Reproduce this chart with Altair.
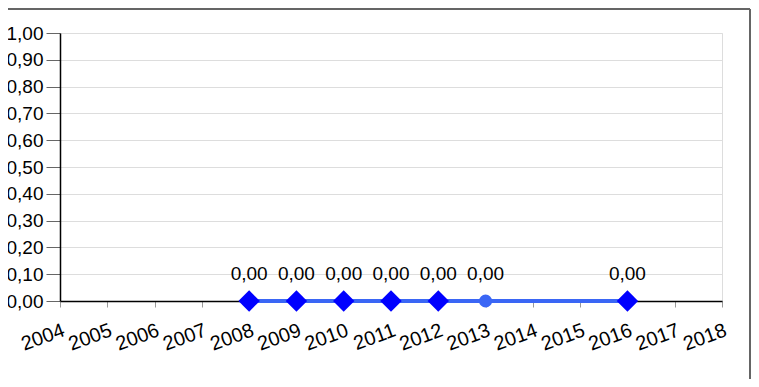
import altair as alt
import pandas as pd

years = [2008, 2009, 2010, 2011, 2012, 2013, 2016]
values = [0.0, 0.0, 0.0, 0.0, 0.0, 0.0, 0.0]
markers = ["diamond", "diamond", "diamond", "diamond", "diamond", "circle", "diamond"]
axis_years = list(range(2004, 2019))
y_ticks = [round(i * 0.1, 1) for i in range(11)]

df = pd.DataFrame({"year": years, "value": values, "marker": markers})
df["label"] = df["value"].map(lambda v: f"{v:.2f}".replace(".", ","))

FONT = "Liberation Sans"
FS = 19

x = alt.X("year:Q", scale=alt.Scale(domain=[2004, 2018], nice=False, zero=False),
          axis=alt.Axis(values=axis_years, format="d", title=None, grid=False,
                        labelAngle=-20, labelAlign="right", labelBaseline="top",
                        labelPadding=13, labelFontSize=20, labelFont=FONT,
                        labelColor="black", tickColor="#999999", tickSize=6,
                        domainColor="black", domainWidth=1.5, labelOverlap=False))
y = alt.Y("value:Q", scale=alt.Scale(domain=[0, 1], nice=False),
          axis=alt.Axis(values=y_ticks, title=None, grid=True, gridColor="#dddddd",
                        labelExpr="replace(format(datum.value, '.2f'), '.', ',')",
                        labelFontSize=FS, labelFont=FONT, labelColor="black",
                        tickColor="#666666", tickSize=14, labelPadding=3,
                        domainColor="black", domainWidth=1.5))

base = alt.Chart(df)

line = base.mark_line(color="#3a66f5", strokeWidth=4).encode(x=x, y=y)
pts = base.mark_point(filled=True, opacity=1, strokeWidth=0).encode(
    x=x, y=y,
    shape=alt.Shape("marker:N", scale=None, legend=None),
    color=alt.Color("marker:N", scale=alt.Scale(domain=["diamond", "circle"],
                                                range=["#0000ff", "#3a66f5"]), legend=None),
    size=alt.Size("marker:N", scale=alt.Scale(domain=["diamond", "circle"],
                                              range=[460, 170]), legend=None),
)
labels = base.mark_text(font=FONT, fontSize=FS, color="black", baseline="alphabetic",
                        dy=-21).encode(x=x, y=y, text="label:N")

frame_top = alt.Chart(df).mark_rule(color="#666666", strokeWidth=1.5, clip=False).encode(
    x=alt.value(-60), x2=alt.value(690), y=alt.value(-24))
frame_right = alt.Chart(df).mark_rule(color="#666666", strokeWidth=1.5, clip=False).encode(
    x=alt.value(690), y=alt.value(-24), y2=alt.value(360))

chart = alt.layer(line, pts, labels, frame_top, frame_right).properties(
    width=662, height=268,
    autosize=alt.AutoSizeParams(type="none"),
    padding={"left": 52, "top": 25, "right": 29, "bottom": 78},
).configure_view(stroke="#888888", strokeWidth=2.5).configure(background="white")

chart.save("out.html", embed_options={"renderer": "svg", "actions": False})
